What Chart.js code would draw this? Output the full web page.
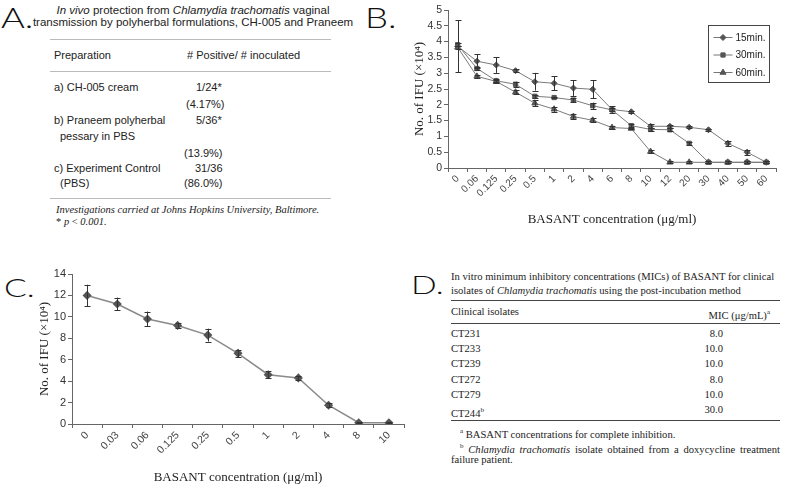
<!DOCTYPE html>
<html>
<head>
<meta charset="utf-8">
<script src="https://cdn.jsdelivr.net/npm/chart.js@4.4.0/dist/chart.umd.min.js"></script>
<style>
html, body { margin: 0; padding: 0; background: #fff; }
body { width: 785px; height: 489px; position: relative; overflow: hidden; font-family: "Liberation Sans", Arial, sans-serif; color: #222; }
.t { position: absolute; white-space: nowrap; line-height: 12px; font-size: 11px; }
.s { font-family: "Liberation Serif", "Times New Roman", serif; font-size: 10.6px; }
.rule { position: absolute; height: 0; }
.big { position: absolute; font-family: Lato, "Liberation Sans", sans-serif; font-weight: 300; line-height: 1; transform-origin: 0 0; transform: scaleX(1.3); color: #111; }
canvas { position: absolute; }
</style>
</head>
<body>

<!-- panel A: tabla -->
<div class="big" style="left:1px;top:3.2px;font-size:28px;">A.</div>
<div class="t" style="left:0;width:386px;text-align:center;top:4px;font-size:11.5px;"><i>In vivo</i> protection from <i>Chlamydia trachomatis</i> vaginal</div>
<div class="t" style="left:0;width:386px;text-align:center;top:16px;font-size:11.5px;">transmission by polyherbal formulations, CH-005 and Praneem</div>
<div class="rule" style="left:50px;top:39px;width:281px;border-top:1px solid #bbb;"></div>
<div class="t" style="left:54px;top:49px;">Preparation</div>
<div class="t" style="left:187px;top:49px;"># Positive/ # inoculated</div>
<div class="rule" style="left:50px;top:71px;width:281px;border-top:1px solid #bbb;"></div>
<div class="t" style="left:54px;top:81px;">a) CH-005 cream</div>
<div class="t" style="left:196px;top:81px;">1/24*</div>
<div class="t" style="left:186px;top:98px;">(4.17%)</div>
<div class="t" style="left:54px;top:114px;">b) Praneem polyherbal</div>
<div class="t" style="left:196px;top:114px;">5/36*</div>
<div class="t" style="left:60px;top:130px;">pessary in PBS</div>
<div class="t" style="left:184px;top:147px;">(13.9%)</div>
<div class="t" style="left:54px;top:162px;">c) Experiment Control</div>
<div class="t" style="left:195px;top:162px;">31/36</div>
<div class="t" style="left:60px;top:177px;">(PBS)</div>
<div class="t" style="left:184px;top:177px;">(86.0%)</div>
<div class="rule" style="left:50px;top:198px;width:281px;border-top:1px solid #bbb;"></div>
<div class="t s" style="left:56px;top:204px;font-size:10.5px;font-style:italic;">Investigations carried at Johns Hopkins University, Baltimore.</div>
<div class="t s" style="left:56px;top:216px;font-size:10.5px;">* <i>p</i> &lt; <i>0.001.</i></div>

<!-- panel B -->
<div class="big" style="left:365px;top:3.2px;font-size:28px;">B.</div>
<canvas id="graficoB" width="380" height="231" style="left:405px;top:0;"></canvas>

<!-- panel C -->
<div class="big" style="left:4px;top:273.6px;font-size:26px;">C.</div>
<canvas id="graficoC" width="410" height="234" style="left:0;top:255px;"></canvas>

<!-- panel D: tabla -->
<div class="big" style="left:411px;top:270.6px;font-size:26px;">D.</div>
<div class="t s" style="left:451px;top:271px;">In vitro minimum inhibitory concentrations (MICs) of BASANT for clinical</div>
<div class="t s" style="left:451px;top:285px;">isolates of <i>Chlamydia trachomatis</i> using the post-incubation method</div>
<div class="rule" style="left:451px;top:300px;width:329px;border-top:1.5px solid #444;"></div>
<div class="t s" style="left:451px;top:306px;">Clinical isolates</div>
<div class="t s" style="left:650px;width:120px;text-align:right;top:306px;">MIC (μg/mL)<sup style="font-size:7px;">a</sup></div>
<div class="rule" style="left:451px;top:323px;width:329px;border-top:1px solid #444;"></div>
<div id="filasD"></div>
<div class="rule" style="left:451px;top:420px;width:329px;border-top:1.5px solid #444;"></div>
<div class="t s" style="left:460px;top:425px;"><sup style="font-size:7px;">a</sup> BASANT concentrations for complete inhibition.</div>
<div class="t s" style="left:460px;top:440px;width:320px;text-align:justify;text-align-last:justify;"><sup style="font-size:7px;">b</sup> <i>Chlamydia trachomatis</i> isolate obtained from a doxycycline treatment</div>
<div class="t s" style="left:451px;top:454px;">failure patient.</div>

<script>
// ---------------- datos panel B ----------------
const concB = ['0', '0.06', '0.125', '0.25', '0.5', '1', '2', '4', '6', '8', '10', '12', '20', '30', '40', '50', '60']
const seriesB = ['15min.', '30min.', '60min.']
const ifu15 = [3.85, 3.38, 3.26, 3.08, 2.73, 2.68, 2.53, 2.49, 1.85, 1.78, 1.32, 1.32, 1.29, 1.21, 0.78, 0.5, 0.18]
const err15 = [0.82, 0.22, 0.25, 0.05, 0.28, 0.22, 0.25, 0.28, 0.1, 0.03, 0.06, 0.05, 0.03, 0.03, 0.08, 0.08, 0.03]
const ifu30 = [3.9, 3.15, 2.76, 2.65, 2.27, 2.23, 2.15, 1.97, 1.84, 1.34, 1.22, 1.21, 0.78, 0.18, 0.18, 0.18, 0.18]
const err30 = [0.05, 0.05, 0.05, 0.08, 0.05, 0.03, 0.05, 0.1, 0.05, 0.05, 0.05, 0.05, 0.05, 0.03, 0.03, 0.03, 0.03]
const ifu60 = [3.82, 2.9, 2.74, 2.4, 2.05, 1.86, 1.63, 1.51, 1.28, 1.25, 0.52, 0.18, 0.18, 0.18, 0.18, 0.18, 0.18]
const err60 = [0.05, 0.04, 0.05, 0.07, 0.1, 0.08, 0.08, 0.07, 0.04, 0.03, 0.05, 0.03, 0.03, 0.03, 0.03, 0.03, 0.03]
const yTicksB = { min: 0, max: 5, step: 0.5 }

// ---------------- datos panel C ----------------
const concC = ['0', '0.03', '0.06', '0.125', '0.25', '0.5', '1', '2', '4', '8', '10']
const ifuC = [12.0, 11.2, 9.8, 9.2, 8.3, 6.6, 4.6, 4.3, 1.75, 0.12, 0.12]
const errC = [1.0, 0.6, 0.7, 0.2, 0.6, 0.35, 0.35, 0.2, 0.2, 0.05, 0.05]
const yTicksC = { min: 0, max: 14, step: 2 }

// ---------------- datos tabla D ----------------
const isolates = ['CT231', 'CT233', 'CT239', 'CT272', 'CT279', 'CT244']
const isolateNotes = ['', '', '', '', '', 'b']
const micValues = ['8.0', '10.0', '10.0', '8.0', '10.0', '30.0']

// filas de la tabla D
let rows = ''
isolates.forEach((iso, i) => {
    const top = 328 + i * 15.2
    const sup = isolateNotes[i] ? `<sup style="font-size:7px;">${isolateNotes[i]}</sup>` : ''
    rows += `<div class="t s" style="left:451px;top:${top}px;">${iso}${sup}</div>
             <div class="t s" style="left:650px;width:73px;text-align:right;top:${top}px;">${micValues[i]}</div>`
})
document.getElementById('filasD').innerHTML = rows

// barras de error dibujadas con la escala y
const errorBars = {
    id: 'errorBars',
    afterDatasetsDraw(chart) {
        const { ctx } = chart
        const y = chart.scales.y
        ctx.save()
        ctx.strokeStyle = '#333'
        ctx.lineWidth = 1
        chart.data.datasets.forEach((ds, i) => {
            if (!ds.errors) return
            chart.getDatasetMeta(i).data.forEach((pt, j) => {
                const e = ds.errors[j]
                if (!e) return
                const v = ds.data[j]
                const top = y.getPixelForValue(v + e)
                const bot = y.getPixelForValue(Math.max(0, v - e))
                const x = Math.round(pt.x) + 0.5
                ctx.beginPath()
                ctx.moveTo(x, top); ctx.lineTo(x, bot)
                ctx.moveTo(x - 3, Math.round(top) + 0.5); ctx.lineTo(x + 3, Math.round(top) + 0.5)
                ctx.moveTo(x - 3, Math.round(bot) + 0.5); ctx.lineTo(x + 3, Math.round(bot) + 0.5)
                ctx.stroke()
            })
        })
        ctx.restore()
    }
}

// leyenda con caja (panel B)
const boxLegend = {
    id: 'boxLegend',
    afterDraw(chart, args, opts) {
        if (!opts.show) return
        const { ctx, chartArea } = chart
        const w = 61, h = 57
        const x0 = Math.round(chartArea.right - 7 - w) + 0.5
        const y0 = Math.round(chartArea.top + 15) + 0.5
        ctx.save()
        ctx.strokeStyle = '#444'
        ctx.lineWidth = 1
        ctx.strokeRect(x0, y0, w, h)
        chart.data.datasets.forEach((ds, i) => {
            const yy = y0 + 12 + i * 17.5
            ctx.strokeStyle = '#777'
            ctx.beginPath(); ctx.moveTo(x0 + 5, yy); ctx.lineTo(x0 + 24, yy); ctx.stroke()
            ctx.fillStyle = '#555'; ctx.strokeStyle = '#555'
            Chart.helpers.drawPoint(ctx, { pointStyle: ds.pointStyle, radius: ds.pointRadius, rotation: 0, borderWidth: 1 }, x0 + 14.5, yy)
            ctx.fillStyle = '#222'
            ctx.font = '10px "Liberation Sans", Arial, sans-serif'
            ctx.textBaseline = 'middle'
            ctx.fillText(ds.label, x0 + 27, yy + 0.5)
        })
        ctx.restore()
    }
}

const tituloY = 'No. of IFU (×10⁴)'
const tituloX = 'BASANT concentration (μg/ml)'
const serif = '"Liberation Serif", "Times New Roman", serif'
const sans = '"Liberation Sans", Arial, sans-serif'

const escalas = (ticksY, yWidth, xHeight, xFont, yFont) => ({
    x: {
        type: 'category',
        offset: true,
        grid: { offset: true, drawOnChartArea: false, tickLength: 4, color: '#666' },
        border: { color: '#666' },
        ticks: { autoSkip: false, minRotation: 45, maxRotation: 45, padding: 1, color: '#444', font: { family: sans, size: xFont } },
        title: { display: true, text: tituloX, color: '#222', font: { family: serif, size: 13 }, padding: { top: 0, bottom: 4 } },
        afterFit: s => { s.height = xHeight }
    },
    y: {
        min: ticksY.min,
        max: ticksY.max,
        grid: { drawOnChartArea: false, tickLength: 4, color: '#666' },
        border: { color: '#666' },
        ticks: {
            stepSize: ticksY.step, padding: 2, color: '#333', font: { family: sans, size: yFont },
            callback: v => String(Math.round(v * 100) / 100)
        },
        title: { display: true, text: tituloY, color: '#222', font: { family: serif, size: 13 }, padding: { top: 7, bottom: 0 } },
        afterFit: s => { s.width = yWidth }
    }
})

// ---------------- grafico B ----------------
const estilosB = ['rectRot', 'rect', 'triangle']
const valoresB = [ifu15, ifu30, ifu60]
const erroresB = [err15, err30, err60]
new Chart(document.getElementById('graficoB').getContext('2d'), {
    type: 'line',
    data: {
        labels: concB,
        datasets: seriesB.map((nombre, i) => ({
            label: nombre,
            data: valoresB[i],
            errors: erroresB[i],
            borderColor: '#7a7a7a',
            borderWidth: 1,
            pointStyle: estilosB[i],
            pointRadius: i === 2 ? 3.5 : 3,
            pointBackgroundColor: '#555',
            pointBorderColor: '#555',
            pointBorderWidth: 1,
            tension: 0
        }))
    },
    options: {
        responsive: false,
        animation: false,
        layout: { padding: { top: 10, right: 9, left: 0, bottom: 0 } },
        plugins: { legend: { display: false }, tooltip: { enabled: false }, boxLegend: { show: true } },
        scales: escalas(yTicksB, 43, 63, 10, 10.5)
    },
    plugins: [errorBars, boxLegend]
})

// ---------------- grafico C ----------------
new Chart(document.getElementById('graficoC').getContext('2d'), {
    type: 'line',
    data: {
        labels: concC,
        datasets: [{
            label: 'IFU',
            data: ifuC,
            errors: errC,
            borderColor: '#8a8a8a',
            borderWidth: 1.5,
            pointStyle: 'rectRot',
            pointRadius: 3.5,
            pointBackgroundColor: '#555',
            pointBorderColor: '#555',
            tension: 0
        }]
    },
    options: {
        responsive: false,
        animation: false,
        layout: { padding: { top: 19, right: 6, left: 30, bottom: 0 } },
        plugins: { legend: { display: false }, tooltip: { enabled: false }, boxLegend: { show: false } },
        scales: escalas(yTicksC, 42, 65, 10.5, 11)
    },
    plugins: [errorBars, boxLegend]
})
</script>
</body>
</html>
